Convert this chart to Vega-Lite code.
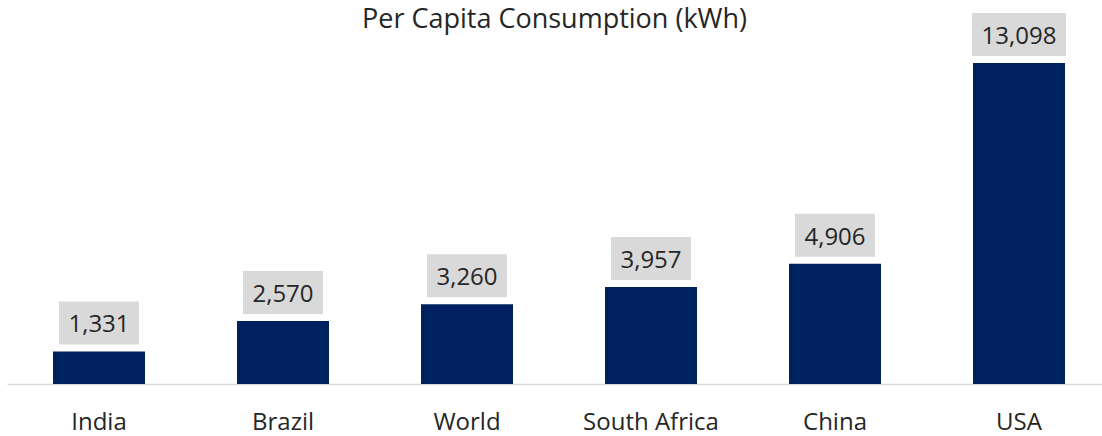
{
  "$schema": "https://vega.github.io/schema/vega-lite/v6.json",
  "width": 1095,
  "height": 343,
  "autosize": {"type": "none"},
  "padding": {"left": 7, "top": 41, "right": 0, "bottom": 52},
  "title": {
    "text": "Per Capita Consumption (kWh)",
    "fontSize": 27,
    "font": "Open Sans",
    "fontWeight": 400,
    "color": "#262626",
    "baseline": "alphabetic",
    "offset": -42,
    "anchor": "middle",
    "frame": "group"
  },
  "config": {"view": {"stroke": null}, "font": "Open Sans"},
  "data": {
    "values": [
      {"country": "India", "value": 1331},
      {"country": "Brazil", "value": 2570},
      {"country": "World", "value": 3260},
      {"country": "South Africa", "value": 3957},
      {"country": "China", "value": 4906},
      {"country": "USA", "value": 13098}
    ]
  },
  "encoding": {
    "x": {
      "field": "country",
      "type": "nominal",
      "sort": null,
      "scale": {"paddingInner": 0.5, "paddingOuter": 0.25, "range": [0, 1104]},
      "axis": {
        "title": null,
        "labelAngle": 0,
        "ticks": false,
        "tickSize": 0,
        "domainColor": "#d9d9d9",
        "domainWidth": 1.5,
        "labelFont": "Open Sans",
        "labelFontSize": 24,
        "labelFontWeight": 400,
        "labelColor": "#262626",
        "labelPadding": 45,
        "labelBaseline": "alphabetic"
      }
    },
    "y": {
      "field": "value",
      "type": "quantitative",
      "scale": {"domain": [0, 14000]},
      "axis": null
    }
  },
  "layer": [
    {"mark": {"type": "bar", "color": "#002060"}},
    {
      "mark": {"type": "point", "filled": true, "opacity": 1, "strokeWidth": 0, "color": "#d9d9d9", "yOffset": -28.5},
      "encoding": {
        "size": {"condition": {"test": "datum.value >= 10000", "value": 8836}, "value": 6400},
        "shape": {"condition": {"test": "datum.value >= 10000", "value": "M-1,-0.4574L1,-0.4574L1,0.4574L-1,0.4574Z"}, "value": "M-1,-0.5375L1,-0.5375L1,0.5375L-1,0.5375Z"}
      }
    },
    {
      "mark": {"type": "text", "font": "Open Sans", "fontSize": 24, "fontWeight": 400, "color": "#262626", "baseline": "alphabetic", "dy": -19},
      "encoding": {"text": {"field": "value", "type": "quantitative", "format": ","}}
    }
  ]
}
